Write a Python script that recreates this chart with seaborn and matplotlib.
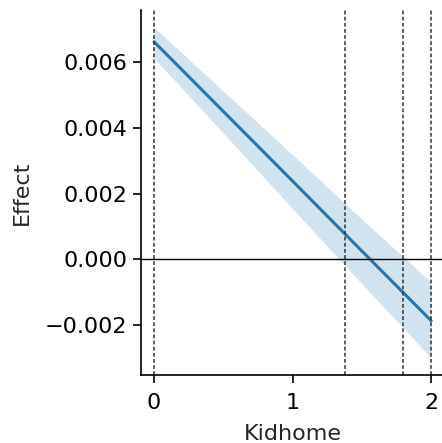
import numpy as np
import pandas as pd
import matplotlib
matplotlib.use("Agg")
import matplotlib.pyplot as plt
import seaborn as sns

# Data
kidhome = [0.0, 0.5, 1.0, 1.5, 2.0]
effect = [0.00662, 0.00450, 0.00238, 0.00025, -0.00187]
lower = [0.00612, 0.00384, 0.00154, -0.00075, -0.00300]
upper = [0.00706, 0.00512, 0.00318, 0.00122, -0.00070]
vlines_x = [0.0, 1.379, 1.793, 2.0]
yticks = [-0.002, 0.000, 0.002, 0.004, 0.006]
xticks = [0, 1, 2]

sns.set_style("ticks")
plt.rcParams['font.family'] = ['DejaVu Sans']

fig = plt.figure(figsize=(4.42, 4.43), dpi=100)
ax = fig.add_axes([0.319, 0.1535, 0.688, 0.8235])

df = pd.DataFrame({"Kidhome": kidhome, "Effect": effect})
sns.lineplot(data=df, x="Kidhome", y="Effect", ax=ax, color="#1f77b4", linewidth=2.2)
ax.fill_between(kidhome, lower, upper, color="#1f77b4", alpha=0.2, linewidth=0)

for xv in vlines_x:
    ax.axvline(xv, color="#333333", linestyle="--", linewidth=1.1, dashes=(2.5, 1.5))
ax.axhline(0, color="black", linewidth=1.0)

ax.set_xlim(-0.094, 2.1)
ax.set_ylim(-0.00352, 0.00758)
ax.set_xticks(xticks)
ax.set_yticks(yticks)
ax.set_yticklabels([f"{v:.3f}".replace("-", "\u2212") for v in yticks])
ax.tick_params(labelsize=16, length=6, width=1.2, colors="black", pad=4)
ax.tick_params(axis="x", pad=7)
ax.set_xlabel("Kidhome", fontsize=16, labelpad=8)
ax.set_ylabel("Effect", fontsize=16, labelpad=9)
for s in ["top", "right"]:
    ax.spines[s].set_visible(False)
for s in ["left", "bottom"]:
    ax.spines[s].set_linewidth(1.2)
    ax.spines[s].set_color("black")

fig.savefig("out.png", dpi=100)
